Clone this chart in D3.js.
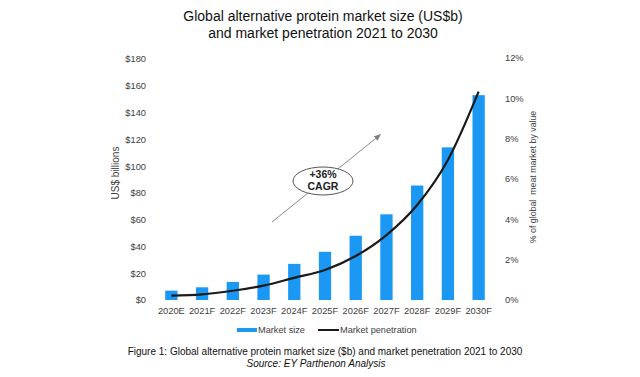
<!DOCTYPE html>
<html>
<head>
<meta charset="utf-8">
<script src="https://cdn.jsdelivr.net/npm/d3@7"></script>
<style>
  body { margin: 0; background: #fff; }
  svg { display: block; font-family: "Liberation Sans", Arial, sans-serif; }
  .tick text { fill: #404040; font-size: 9.3px; }
</style>
</head>
<body>
<svg width="640" height="377"></svg>
<script>
(function (d3) {
    'use strict';

    const years = ['2020E', '2021F', '2022F', '2023F', '2024F', '2025F', '2026F', '2027F', '2028F', '2029F', '2030F'];
    const marketSize = [7, 9.5, 13.5, 19, 27, 36, 48, 64, 85.5, 114, 153];
    const penetration = [0.22, 0.28, 0.46, 0.71, 1.1, 1.49, 2.18, 3.22, 4.71, 6.94, 10.33];
    const leftTicks = [0, 20, 40, 60, 80, 100, 120, 140, 160, 180];
    const rightTicks = [0, 2, 4, 6, 8, 10, 12];

    const svg = d3.select('svg');
    const left = 156, right = 494, top = 59, bottom = 300;

    const x = d3.scaleBand().domain(years).range([left, right]).paddingInner(0.6).paddingOuter(0.3);
    const yL = d3.scaleLinear().domain([0, 180]).range([bottom, top]);
    const yR = d3.scaleLinear().domain([0, 12]).range([bottom, top - 1]);

    // title
    svg.append('text').attr('x', 323).attr('y', 21).attr('text-anchor', 'middle')
      .attr('font-size', 14).attr('fill', '#111').text('Global alternative protein market size (US$b)');
    svg.append('text').attr('x', 323).attr('y', 38).attr('text-anchor', 'middle')
      .attr('font-size', 14).attr('fill', '#111').text('and market penetration 2021 to 2030');

    // axes
    const gl = svg.append('g').attr('transform', `translate(${left - 7},0)`)
      .call(d3.axisLeft(yL).tickValues(leftTicks).tickSize(0).tickFormat(d => '$' + d));
    gl.select('.domain').remove();

    const gr = svg.append('g').attr('transform', `translate(${right + 8},0)`)
      .call(d3.axisRight(yR).tickValues(rightTicks).tickSize(0).tickFormat(d => d + '%'));
    gr.select('.domain').remove();

    const gx = svg.append('g').attr('transform', `translate(0,${bottom + 4})`)
      .call(d3.axisBottom(x).tickSize(0));
    gx.select('.domain').remove();

    svg.append('text').attr('transform', 'translate(119,173) rotate(-90)')
      .attr('text-anchor', 'middle').attr('font-size', 10).attr('fill', '#404040').text('US$ billions');
    svg.append('text').attr('transform', 'translate(536,177) rotate(-90)')
      .attr('text-anchor', 'middle').attr('font-size', 8.8).attr('fill', '#404040')
      .attr('xml:space', 'preserve').text('% of global  meat market by value');

    // bars
    svg.append('g').selectAll('rect').data(years).enter().append('rect')
      .attr('x', d => x(d))
      .attr('width', x.bandwidth())
      .attr('y', (d, i) => yL(marketSize[i]))
      .attr('height', (d, i) => yL(0) - yL(marketSize[i]))
      .attr('fill', '#1b98f4');

    // line
    const line = d3.line()
      .x((d, i) => x(years[i]) + x.bandwidth() / 2)
      .y(d => yR(d))
      .curve(d3.curveMonotoneX);
    svg.append('path').datum(penetration).attr('d', line)
      .attr('fill', 'none').attr('stroke', '#1a1a1a').attr('stroke-width', 2.2);

    // CAGR annotation
    svg.append('defs').append('marker').attr('id', 'arr').attr('viewBox', '0 0 10 10')
      .attr('refX', 8).attr('refY', 5).attr('markerWidth', 7).attr('markerHeight', 7)
      .attr('orient', 'auto')
      .append('path').attr('d', 'M0,1 L10,5 L0,9 Z').attr('fill', '#808080');
    svg.append('line').attr('x1', 272).attr('y1', 222).attr('x2', 380).attr('y2', 135)
      .attr('stroke', '#8a8a8a').attr('stroke-width', 1).attr('marker-end', 'url(#arr)');
    svg.append('ellipse').attr('cx', 323).attr('cy', 181).attr('rx', 30).attr('ry', 14)
      .attr('fill', '#fff').attr('stroke', '#555').attr('stroke-width', 1);
    svg.append('text').attr('x', 323).attr('y', 178).attr('text-anchor', 'middle')
      .attr('font-size', 10.5).attr('font-weight', 'bold').attr('fill', '#222').text('+36%');
    svg.append('text').attr('x', 323).attr('y', 190).attr('text-anchor', 'middle')
      .attr('font-size', 10.5).attr('font-weight', 'bold').attr('fill', '#222').text('CAGR');

    // legend
    svg.append('rect').attr('x', 237).attr('y', 328).attr('width', 20).attr('height', 4).attr('fill', '#1b98f4');
    svg.append('text').attr('x', 258).attr('y', 333).attr('font-size', 9.2).attr('fill', '#404040').text('Market size');
    svg.append('line').attr('x1', 318).attr('x2', 339).attr('y1', 330).attr('y2', 330)
      .attr('stroke', '#1a1a1a').attr('stroke-width', 2);
    svg.append('text').attr('x', 340).attr('y', 333).attr('font-size', 9.2).attr('fill', '#404040').text('Market penetration');

    // caption
    svg.append('text').attr('x', 325).attr('y', 355).attr('text-anchor', 'middle')
      .attr('font-size', 10).attr('fill', '#111')
      .text('Figure 1: Global alternative protein market size ($b) and market penetration 2021 to 2030');
    svg.append('text').attr('x', 316).attr('y', 367).attr('text-anchor', 'middle')
      .attr('font-size', 10).attr('font-style', 'italic').attr('fill', '#111')
      .text('Source: EY Parthenon Analysis');
}(d3));
</script>
</body>
</html>
